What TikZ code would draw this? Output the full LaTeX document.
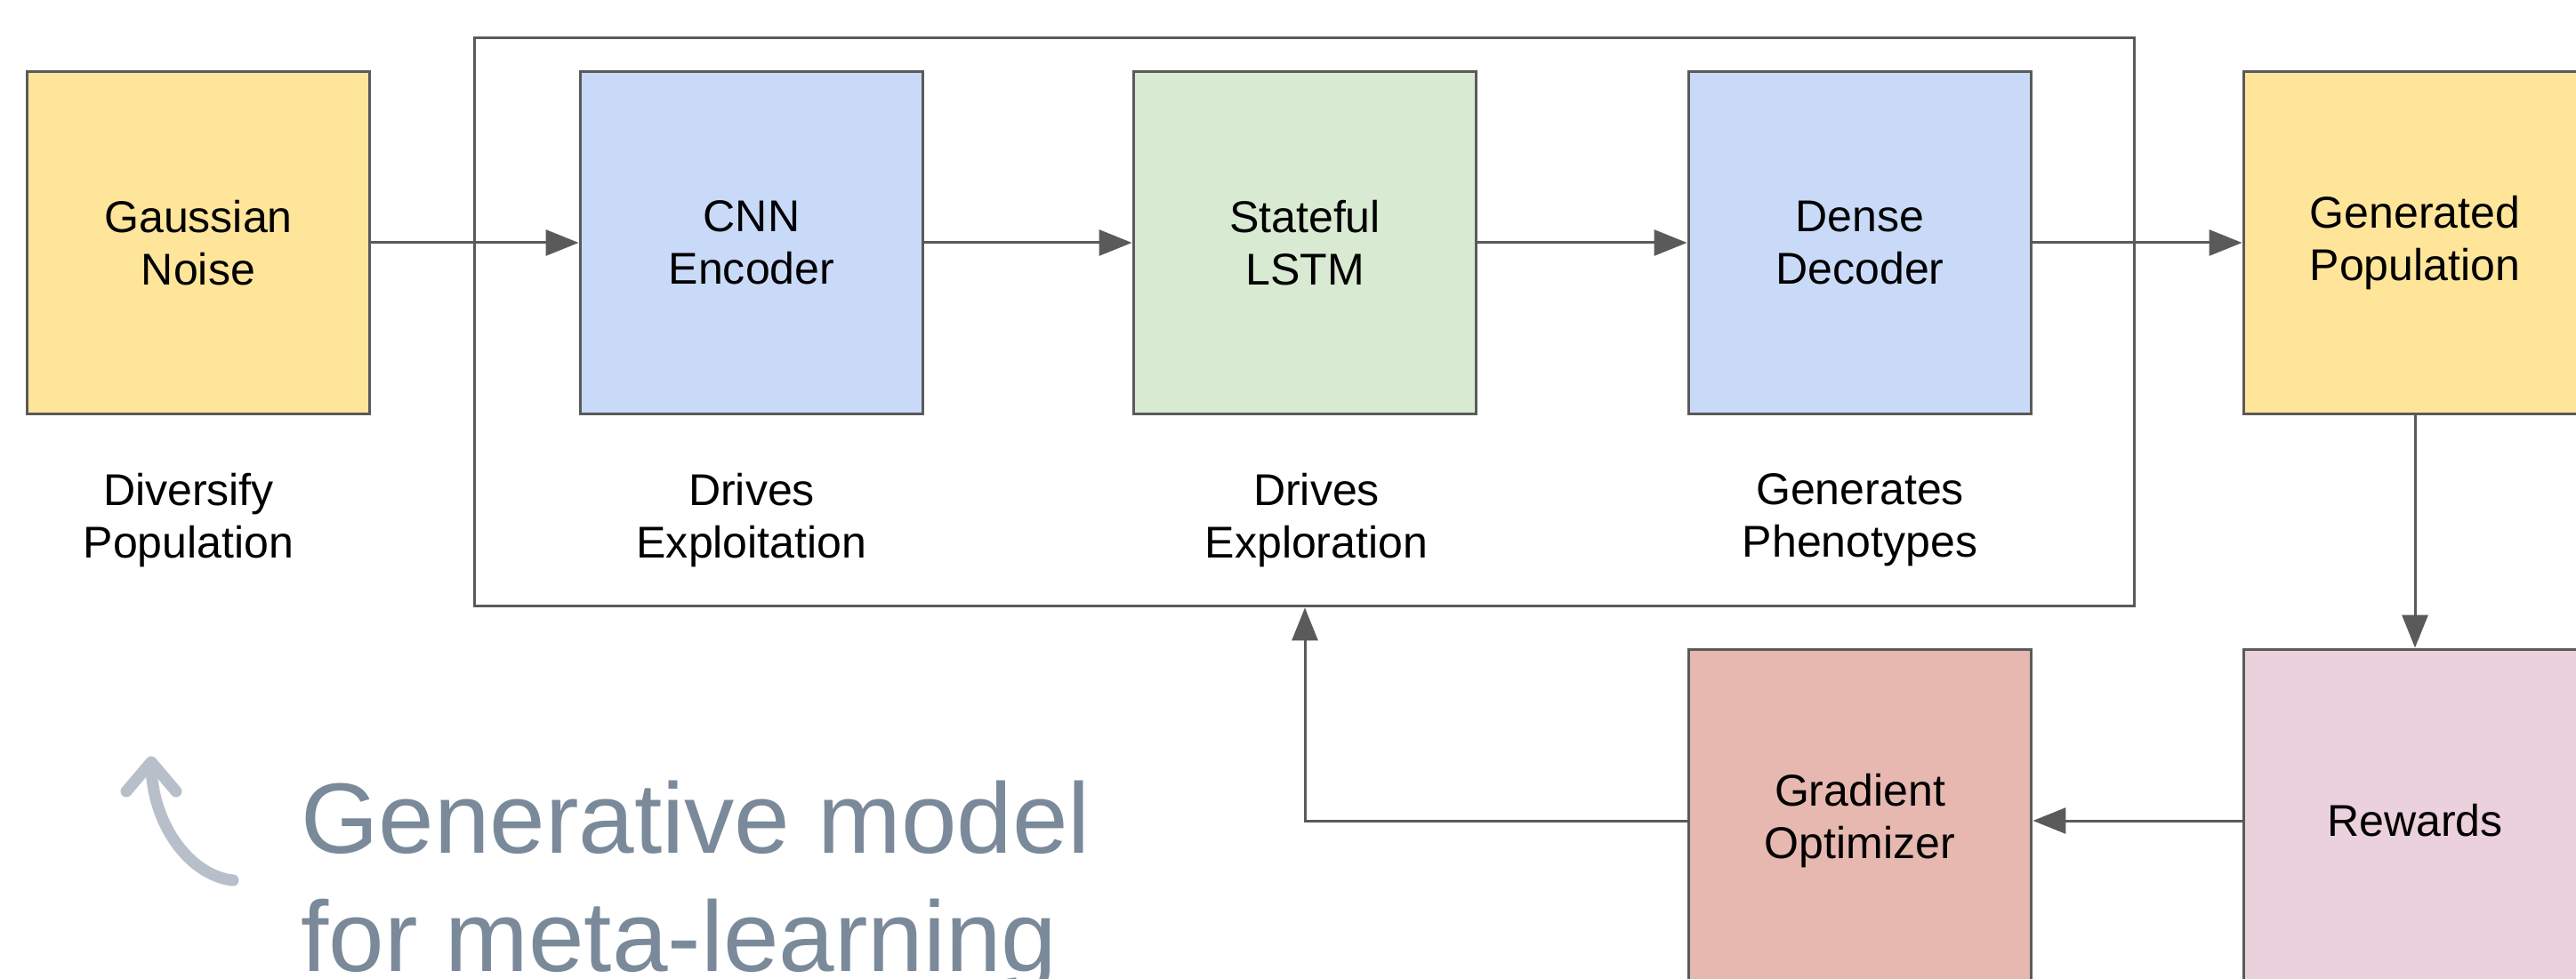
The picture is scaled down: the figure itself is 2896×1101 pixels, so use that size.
\documentclass[tikz,border=0pt]{standalone}
\usepackage{fontspec}
\setmainfont{Liberation Sans}
\usetikzlibrary{arrows.meta}
\definecolor{edgegray}{HTML}{5A5A5A}
\definecolor{ylw}{HTML}{FFE599}
\definecolor{blu}{HTML}{C9DAF8}
\definecolor{grn}{HTML}{D9EAD3}
\definecolor{redl}{HTML}{E6B8AF}
\definecolor{pnk}{HTML}{EAD1DC}
\definecolor{titlegray}{HTML}{7A8A9A}
\definecolor{curvegray}{HTML}{B7BFCB}
\tikzset{
  blockbox/.style={draw=edgegray, line width=0.06cm, rectangle, minimum width=7.72cm, minimum height=7.72cm, inner sep=0pt, align=center, font=\fontsize{28.5}{33.4}\selectfont},
  lbl/.style={align=center, inner sep=0pt, font=\fontsize{28.5}{33.4}\selectfont},
  arr/.style={draw=edgegray, line width=0.06cm, -{Triangle[length=0.74cm,width=0.58cm]}},
  frm/.style={draw=edgegray, line width=0.06cm, rectangle, minimum width=37.34cm, minimum height=12.8cm, inner sep=0pt},
  ttl/.style={text=titlegray, inner sep=0pt, anchor=base west, font=\fontsize{64}{75}\selectfont},
  curv/.style={draw=curvegray, line width=0.26cm, line cap=round, line join=round}
}
\begin{document}
\begin{tikzpicture}[x=0.02cm, y=-0.02cm]
\useasboundingbox (0,0) rectangle (2896,1101);
\clip (0,0) rectangle (2896,1101);
\fill[white] (0,0) rectangle (2896,1101);
% outer frame
\node[frm] (frame) at (1466.5,362) {};
% blocks
\node[blockbox, fill=ylw] (gauss) at (223,273) {Gaussian\\Noise};
\node[blockbox, fill=blu] (cnn) at (845,273) {CNN\\Encoder};
\node[blockbox, fill=grn] (lstm) at (1467,273) {Stateful\\LSTM};
\node[blockbox, fill=blu] (dense) at (2091,273) {Dense\\Decoder};
\node[blockbox, fill=ylw] (genpop) at (2715,273) {Generated\\Population};
\node[blockbox, fill=pnk] (rewards) at (2715,923) {Rewards};
\node[blockbox, fill=redl] (gradopt) at (2091,923) {Gradient\\Optimizer};
% labels
\node[lbl] (ldiv) at (212,585) {Diversify\\Population};
\node[lbl] (lexploit) at (845,585) {Drives\\Exploitation};
\node[lbl] (lexplore) at (1480,585) {Drives\\Exploration};
\node[lbl] (lpheno) at (2091,585) {Generates\\Phenotypes};
% connectors
\draw[arr] (gauss.east) -- (cnn.west);
\draw[arr] (cnn.east) -- (lstm.west);
\draw[arr] (lstm.east) -- (dense.west);
\draw[arr] (dense.east) -- (genpop.west);
\draw[arr] (genpop.south) -- (rewards.north);
\draw[arr] (rewards.west) -- (gradopt.east);
\coordinate (loopx) at (1467,923);
\draw[arr] (gradopt.west) -| (frame.south -| loopx);
% title
\node[ttl] (t1) at (338,959) {Generative model};
\node[ttl] (t2) at (338,1092) {for meta-learning};
% curved arrow
\draw[curv] (262,990) .. controls (215,985) and (172,930) .. (170,862);
\draw[curv] (142,890) -- (170,857) -- (198,890);
\end{tikzpicture}
\end{document}
